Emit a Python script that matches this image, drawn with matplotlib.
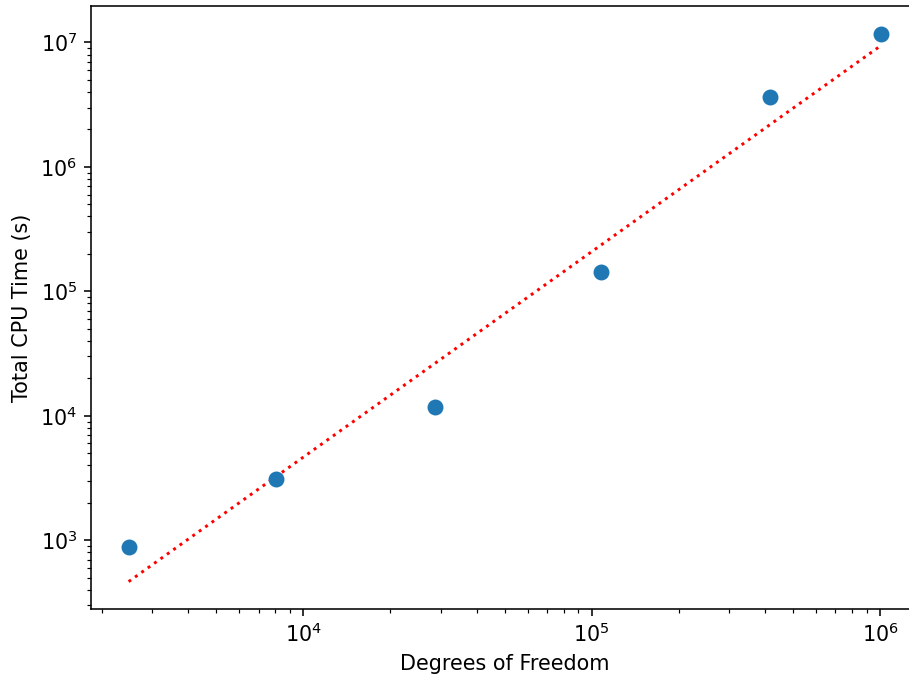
import numpy as np
import matplotlib
matplotlib.use("Agg")
import matplotlib.pyplot as plt

dof = [2480, 8060, 28700, 107500, 414000, 1008000]
cpu_time = [880, 3090, 11800, 142000, 3640000, 11800000]

# power-law fit in log-log space
coef = np.polyfit(np.log10(dof), np.log10(cpu_time), 1)
fit = 10 ** np.polyval(coef, np.log10(dof))

DPI = 909 / 6.4
plt.rcParams['font.size'] = 10.5

fig = plt.figure(figsize=(6.4, 682 / DPI), dpi=DPI)
ax = fig.add_axes([0.1001, 0.107, 0.9106, 0.884])
ax.scatter(dof, cpu_time, s=50, color='#1f77b4', zorder=3)
ax.plot(dof, fit, ':', color='red', linewidth=1.5)
ax.set_xscale('log')
ax.set_yscale('log')
ax.set_xlabel('Degrees of Freedom')
ax.set_ylabel('Total CPU Time (s)')

fig.savefig('out.png', dpi=DPI)
